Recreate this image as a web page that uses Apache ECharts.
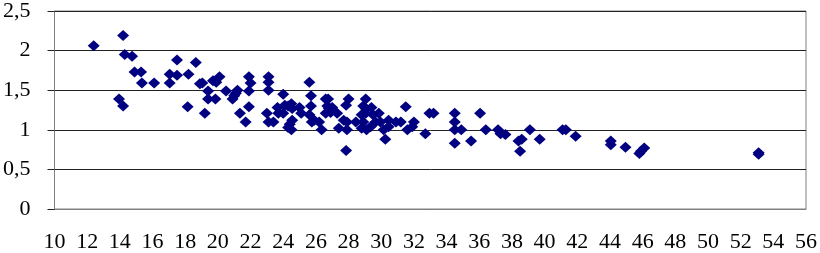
<!DOCTYPE html>
<html><head><meta charset="utf-8">
<script src="https://cdn.jsdelivr.net/npm/echarts@6/dist/echarts.min.js"></script>
<style>html,body{margin:0;padding:0;background:#fff}#c{width:820px;height:253px}</style>
</head><body><div id="c"></div>
<script>
const xValues = [12.4,14.2,14.3,14.75,13.95,14.2,14.9,15.3,15.35,16.1,17.05,17.05,17.5,17.5,18.2,18.15,18.65,18.9,19.05,19.2,19.4,19.4,19.7,19.85,19.9,20.1,20.5,20.9,21.0,21.1,21.2,21.35,21.7,21.9,22.0,21.9,21.9,23.1,23.1,23.1,23.0,23.1,23.4,23.65,23.7,24.0,24.0,24.1,24.3,24.5,24.55,24.4,24.5,24.55,24.3,25.0,25.1,25.6,25.7,25.7,25.6,25.75,25.9,26.2,26.35,26.6,26.75,26.7,26.8,26.9,26.6,27.0,27.3,27.4,27.7,28.0,27.85,27.9,27.9,27.85,28.45,29.05,28.9,29.05,29.05,28.8,28.9,28.8,29.1,29.35,29.4,29.5,29.65,29.85,29.95,30.15,30.25,30.45,30.45,30.9,31.2,31.5,31.6,31.9,32.0,32.7,32.95,33.2,34.5,34.5,34.5,34.5,34.9,35.5,36.05,36.4,37.15,37.3,37.6,38.4,38.6,38.5,39.1,39.7,41.1,41.3,41.9,44.05,44.05,44.95,45.8,45.9,46.1,53.1,53.1];
const yValues = [2.06,2.19,1.95,1.93,1.39,1.3,1.73,1.73,1.59,1.59,1.7,1.59,1.88,1.69,1.7,1.29,1.85,1.58,1.59,1.21,1.49,1.39,1.62,1.39,1.6,1.67,1.49,1.39,1.43,1.46,1.5,1.21,1.1,1.67,1.59,1.49,1.29,1.67,1.6,1.5,1.21,1.1,1.1,1.28,1.21,1.45,1.21,1.31,1.3,1.33,1.27,1.07,1.0,1.12,1.03,1.28,1.21,1.6,1.43,1.3,1.19,1.1,1.12,1.1,1.0,1.39,1.39,1.3,1.27,1.22,1.21,1.28,1.21,1.02,1.12,1.39,1.31,1.1,1.0,0.74,1.1,1.39,1.3,1.27,1.21,1.19,1.1,1.02,1.0,1.04,1.28,1.19,1.1,1.21,1.1,1.0,0.88,1.04,1.12,1.1,1.1,1.29,1.0,1.04,1.1,0.95,1.21,1.21,1.21,1.1,1.0,0.83,1.0,0.86,1.21,1.0,1.0,0.95,0.94,0.86,0.88,0.73,1.0,0.88,1.0,1.0,0.92,0.86,0.81,0.78,0.7,0.73,0.77,0.71,0.69];
const xMin = 10, xMax = 56, xStep = 2;
const yMin = 0, yMax = 2.5, yStep = 0.5;

const points = xValues.map((x, i) => [x, yValues[i]]);
const font = 'Liberation Serif';
const chart = echarts.init(document.getElementById('c'), null, {renderer: 'canvas'});
chart.setOption({
  animation: false,
  backgroundColor: '#fff',
  grid: {left: 54, right: 11, top: 7, bottom: 40, show: true, borderColor: '#808080', borderWidth: 1, backgroundColor: 'transparent'},
  xAxis: {
    type: 'value', min: xMin, max: xMax, interval: xStep,
    axisLine: {show: true, lineStyle: {color: '#808080', width: 1}},
    axisTick: {show: false},
    splitLine: {show: false},
    axisLabel: {color: '#000', fontFamily: font, fontSize: 22, margin: 22}
  },
  yAxis: {
    type: 'value', min: yMin, max: yMax, interval: yStep,
    axisLine: {show: true, lineStyle: {color: '#808080', width: 1}},
    axisTick: {show: true, length: 7, lineStyle: {color: '#222'}},
    splitLine: {show: true, lineStyle: {color: '#222', width: 1}},
    axisLabel: {color: '#000', fontFamily: font, fontSize: 22, margin: 24,
      formatter: v => String(v).replace('.', ',')}
  },
  series: [{
    type: 'scatter',
    data: points,
    symbol: 'diamond',
    symbolSize: [12, 11],
    itemStyle: {color: '#000080', opacity: 1}
  }]
});
</script></body></html>
